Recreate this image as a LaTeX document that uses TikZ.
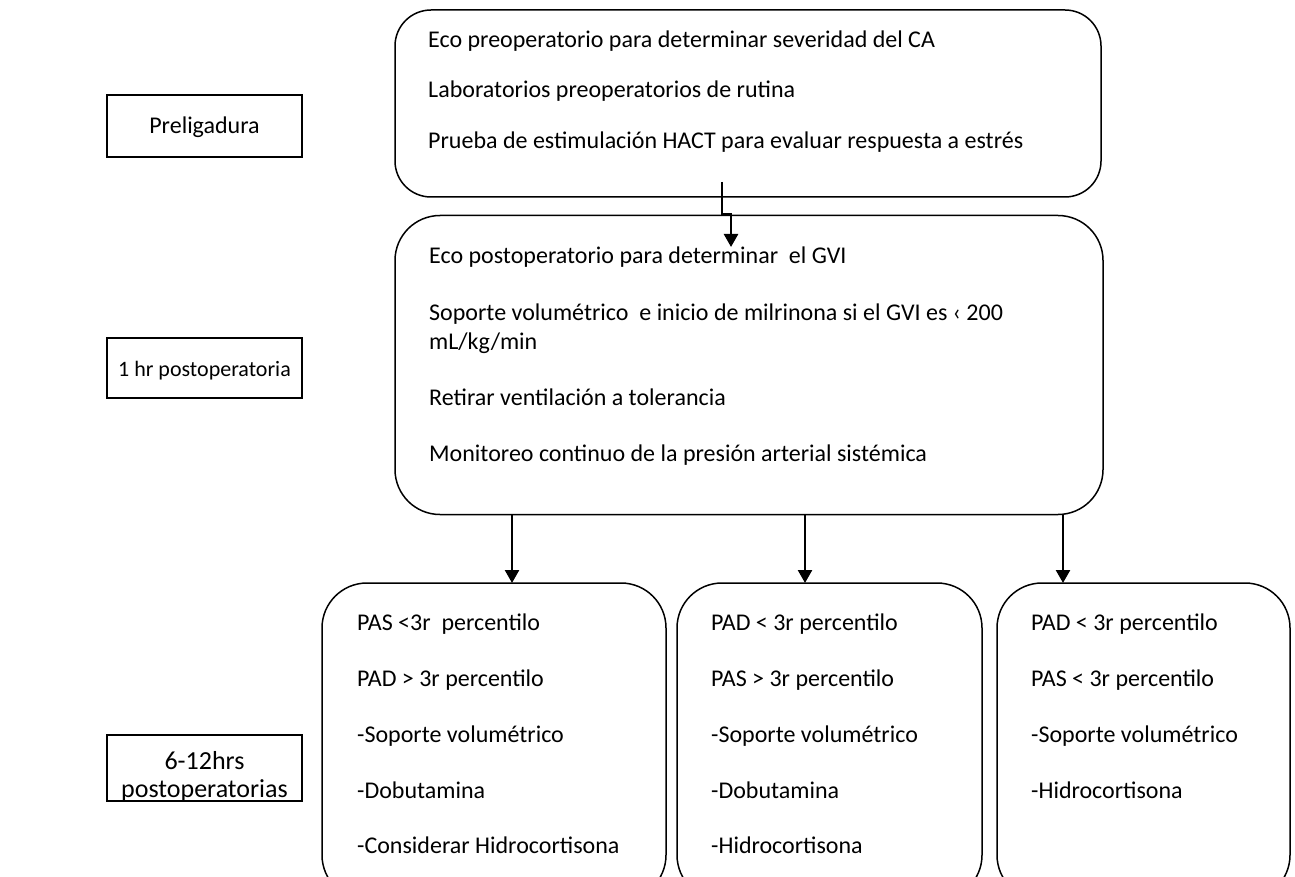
\documentclass[tikz,border=0pt]{standalone}
\usepackage{fontspec}
\setmainfont{Carlito}
\usetikzlibrary{arrows.meta}
\begin{document}
\begin{tikzpicture}[x=1pt,y=-1pt,
  box/.style={draw, line width=1.5pt, inner sep=0pt},
  tagbox/.style={draw, line width=1.5pt, inner sep=0pt, minimum width=195pt},
  txt/.style={anchor=base west, inner sep=0pt, font=\fontsize{24}{29}\selectfont},
  tagtxt/.style={anchor=base, inner sep=0pt, font=\fontsize{24}{29}\selectfont},
  arr/.style={line width=2.5pt, -{Triangle[length=13pt,width=14pt]}}]
\useasboundingbox (0,0) rectangle (1295,877);
\clip (0,0) rectangle (1295,877);

% left tags
\node[tagbox, minimum height=62pt] (tag1) at (204.5,126) {};
\node[tagtxt] (t1) at (204.5,134) {Preligadura};
\node[tagbox, minimum height=60pt] (tag2) at (204.5,368) {};
\node[tagtxt, font=\fontsize{22}{26}\selectfont] (t2) at (204.5,376) {1 hr postoperatoria};
\node[tagbox, minimum height=66pt] (tag3) at (204.5,768) {};
\begin{scope}
  \clip (tag3.north west) rectangle (tag3.south east);
  \node[tagtxt, font=\fontsize{26}{31}\selectfont] (t3a) at (204.5,769) {6-12hrs};
  \node[tagtxt, font=\fontsize{26}{31}\selectfont] (t3b) at (204.5,797) {postoperatorias};
\end{scope}

% top box
\node[box, rounded corners=36pt, minimum width=706pt, minimum height=187pt] (pre) at (748,103.5) {};
\node[txt] (p1) at (428,48) {Eco preoperatorio para determinar severidad del CA};
\node[txt] (p2) at (428,98) {Laboratorios preoperatorios de rutina};
\node[txt] (p3) at (428,149) {Prueba de estimulación HACT para evaluar respuesta a estrés};

% middle box
\node[box, rounded corners=45pt, minimum width=708pt, minimum height=299pt] (post) at (749,365) {};
\node[txt] (m1) at (429,264) {Eco postoperatorio para determinar\ \ el GVI};
\node[txt] (m2) at (429,320) {Soporte volumétrico\ \ e inicio de milrinona si el GVI es ‹ 200};
\node[txt] (m3) at (429,349) {mL/kg/min};
\node[txt] (m4) at (429,405) {Retirar ventilación a tolerancia};
\node[txt] (m5) at (429,461) {Monitoreo continuo de la presión arterial sistémica};

% bottom boxes
\node[box, rounded corners=45pt, minimum width=344pt, minimum height=317pt] (b1) at (494,741.5) {};
\node[box, rounded corners=45pt, minimum width=305pt, minimum height=317pt] (b2) at (829.5,741.5) {};
\node[box, rounded corners=45pt, minimum width=293pt, minimum height=317pt] (b3) at (1143.5,741.5) {};

\node[txt] (x11) at (357,630) {PAS <3r\ \ percentilo};
\node[txt] (x12) at (357,686) {PAD > 3r percentilo};
\node[txt] (x13) at (357,742) {-Soporte volumétrico};
\node[txt] (x14) at (357,798) {-Dobutamina};
\node[txt] (x15) at (357,853) {-Considerar Hidrocortisona};

\node[txt] (x21) at (711,630) {PAD < 3r percentilo};
\node[txt] (x22) at (711,686) {PAS > 3r percentilo};
\node[txt] (x23) at (711,742) {-Soporte volumétrico};
\node[txt] (x24) at (711,798) {-Dobutamina};
\node[txt] (x25) at (711,853) {-Hidrocortisona};

\node[txt] (x31) at (1031,630) {PAD < 3r percentilo};
\node[txt] (x32) at (1031,686) {PAS < 3r percentilo};
\node[txt] (x33) at (1031,742) {-Soporte volumétrico};
\node[txt] (x34) at (1031,798) {-Hidrocortisona};

% connectors
\coordinate (k0) at (722,182);
\coordinate (k2) at (731,0);
\coordinate (k3) at (731,247);
\draw[arr] (k0) -- (k0 |- post.north) -- (k2 |- post.north) -- (k3);

\coordinate (c1) at (512,583);
\coordinate (c2) at (805,583);
\coordinate (c3) at (1063,583);
\draw[arr] (post.south -| c1) -- (c1);
\draw[arr] (post.south -| c2) -- (c2);
\draw[arr] (post.south -| c3) -- (c3);
\end{tikzpicture}
\end{document}
